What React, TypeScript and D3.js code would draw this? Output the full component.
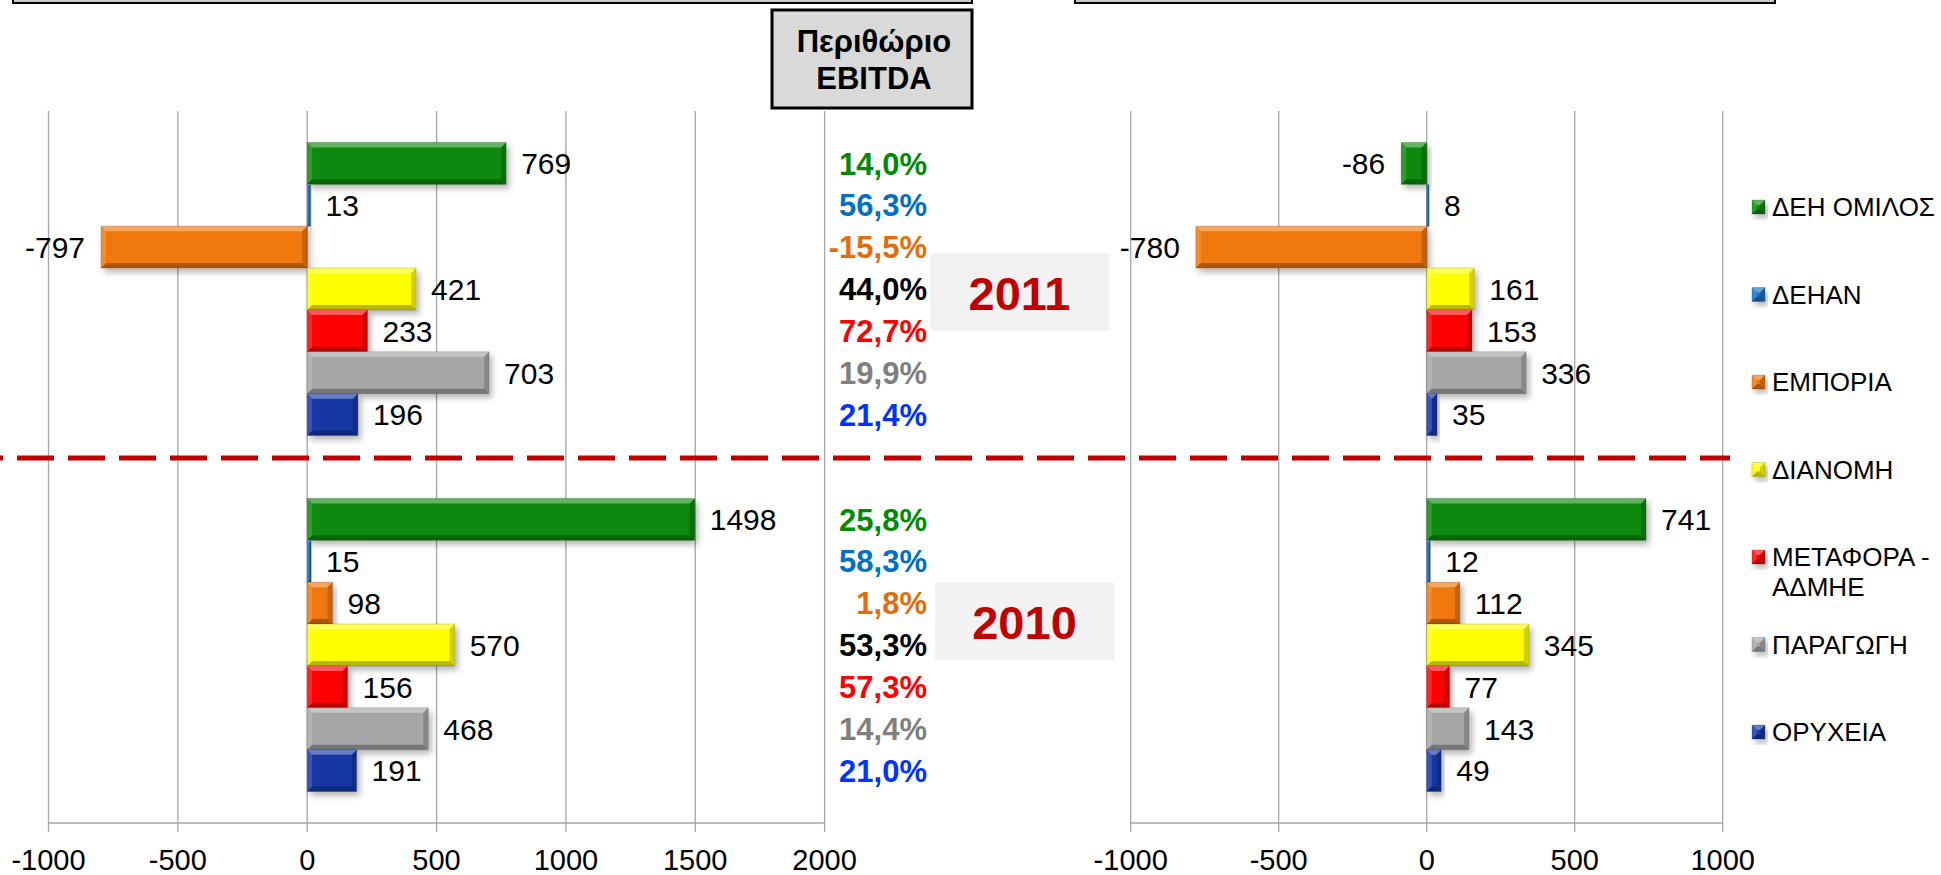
import * as d3 from 'd3';

// EBITDA by business unit, 2011 vs 2010
const segments = ['ΔΕΗ ΟΜΙΛΟΣ', 'ΔΕΗΑΝ', 'ΕΜΠΟΡΙΑ', 'ΔΙΑΝΟΜΗ', 'ΜΕΤΑΦΟΡΑ - ΑΔΜΗΕ', 'ΠΑΡΑΓΩΓΗ', 'ΟΡΥΧΕΙΑ'];
const years = ['2011', '2010'];

const ebitda2011 = [769, 13, -797, 421, 233, 703, 196];
const ebitda2010 = [1498, 15, 98, 570, 156, 468, 191];
const margin2011 = ['14,0%', '56,3%', '-15,5%', '44,0%', '72,7%', '19,9%', '21,4%'];
const margin2010 = ['25,8%', '58,3%', '1,8%', '53,3%', '57,3%', '14,4%', '21,0%'];

const right2011 = [-86, 8, -780, 161, 153, 336, 35];
const right2010 = [741, 12, 112, 345, 77, 143, 49];

const leftTicks = [-1000, -500, 0, 500, 1000, 1500, 2000];
const rightTicks = [-1000, -500, 0, 500, 1000];

const barColors = ['#078A07', '#1F6FBF', '#F07810', '#FFFF00', '#FF0000', '#A6A6A6', '#1438A6'];
const marginColors = ['#008A00', '#0070C0', '#E46C0A', '#000000', '#FF0000', '#7F7F7F', '#0033FF'];

const W = 1941;
const H = 875;
const FONT = 'Liberation Sans, Arial, sans-serif';
const plotTop = 111;
const plotBottom = 823;

const yYear = d3.scaleBand().domain(years).range([plotTop, plotBottom]).paddingInner(0.177).paddingOuter(0.0885);
const ySeg = d3.scaleBand().domain(segments).range([0, yYear.bandwidth()]);

const xLeft = d3.scaleLinear().domain([-1000, 2000]).range([48.5, 824.6]);
const xRight = d3.scaleLinear().domain([-1000, 1000]).range([1130.7, 1722.7]);

// beveled bar like excel's 3D format
const Bar = ({ x0, x1, y0, y1, color }: any) => {
  const w = x1 - x0;
  const h = y1 - y0;
  const b = Math.max(0, Math.min(5, w / 2, h / 2));
  const pts = (a: number[][]) => a.map(p => p.join(',')).join(' ');
  return (
    <g>
      <rect x={x0} y={y0} width={w} height={h} fill={color} filter="url(#shadow)" />
      <polygon points={pts([[x0, y0], [x1, y0], [x1 - b, y0 + b], [x0 + b, y0 + b]])} fill="#fff" opacity={0.35} />
      <polygon points={pts([[x0, y1], [x1, y1], [x1 - b, y1 - b], [x0 + b, y1 - b]])} fill="#000" opacity={0.28} />
      <polygon points={pts([[x0, y0], [x0 + b, y0 + b], [x0 + b, y1 - b], [x0, y1]])} fill="#fff" opacity={0.15} />
      <polygon points={pts([[x1, y0], [x1 - b, y0 + b], [x1 - b, y1 - b], [x1, y1]])} fill="#000" opacity={0.18} />
      <rect x={x0} y={y0} width={w} height={h} fill="none" stroke="#000" strokeOpacity={0.15} strokeWidth={1} />
    </g>
  );
};

const Panel = ({ x, ticks, data }: any) => {
  const [r0, r1] = x.range();
  return (
    <g>
      {ticks.map((t: number) => (
        <g key={t}>
          <line x1={x(t)} x2={x(t)} y1={plotTop} y2={plotBottom + 9} stroke="#A6A6A6" strokeWidth={1.3} />
          <text x={x(t)} y={870} textAnchor="middle" fontSize={29} fontFamily={FONT} fill="#000">{t}</text>
        </g>
      ))}
      <line x1={r0} x2={r1} y1={plotBottom} y2={plotBottom} stroke="#A6A6A6" strokeWidth={1.5} />
      {years.map((yr, yi) => data[yi].map((v: number, i: number) => {
        const y0 = yYear(yr)! + ySeg(segments[i])!;
        const y1 = y0 + ySeg.bandwidth();
        const xa = x(Math.min(0, v));
        const xb = x(Math.max(0, v));
        const cy = (y0 + y1) / 2;
        return (
          <g key={yr + i}>
            <Bar x0={xa} x1={xb} y0={y0} y1={y1} color={barColors[i]} />
            <text x={v < 0 ? xa - 16 : xb + 15} y={cy} dy="0.36em" textAnchor={v < 0 ? 'end' : 'start'}
              fontSize={30} fontFamily={FONT} fill="#000">{v}</text>
          </g>
        );
      }))}
    </g>
  );
};

export default function App() {
  const margins = [margin2011, margin2010];
  const yearBoxes = [{ x: 930, y: 253, label: '2011' }, { x: 935, y: 582, label: '2010' }];
  return (
    <svg width={W} height={H} style={{ position: 'absolute', left: 0, top: 0, background: '#fff' }}>
      <defs>
        <filter id="shadow" x="-10%" y="-20%" width="130%" height="160%">
          <feDropShadow dx={3} dy={4} stdDeviation={3} floodColor="#000" floodOpacity={0.3} />
        </filter>
      </defs>

      {/* frames cut off at the top */}
      <rect x={13} y={-20} width={959} height={23} fill="#C8C8C8" stroke="#000" strokeWidth={2} />
      <rect x={1075} y={-20} width={700} height={23} fill="#C8C8C8" stroke="#000" strokeWidth={2} />

      <Panel x={xLeft} ticks={leftTicks} data={[ebitda2011, ebitda2010]} />
      <Panel x={xRight} ticks={rightTicks} data={[right2011, right2010]} />

      {/* EBITDA margin column */}
      <rect x={772} y={10} width={200} height={98} fill="#D9D9D9" stroke="#000" strokeWidth={3} />
      <text x={874} y={52} textAnchor="middle" fontSize={31} fontWeight="bold" fontFamily={FONT}>Περιθώριο</text>
      <text x={874} y={89} textAnchor="middle" fontSize={31} fontWeight="bold" fontFamily={FONT}>EBITDA</text>
      {years.map((yr, yi) => margins[yi].map((m, i) => (
        <text key={yr + m + i} x={927} y={yYear(yr)! + ySeg(segments[i])! + ySeg.bandwidth() / 2} dy="0.36em"
          textAnchor="end" fontSize={31} fontWeight="bold" fontFamily={FONT} fill={marginColors[i]}>{m}</text>
      )))}

      {yearBoxes.map(b => (
        <g key={b.label}>
          <rect x={b.x} y={b.y} width={179} height={78} fill="#F2F2F2" />
          <text x={b.x + 89.5} y={b.y + 57} textAnchor="middle" fontSize={47} fontWeight="bold" fontFamily={FONT} fill="#C00000">{b.label}</text>
        </g>
      ))}

      <line x1={0} x2={1730} y1={458} y2={458} stroke="#C00000" strokeWidth={5} strokeDasharray="37 14" strokeDashoffset={34} />

      {/* legend */}
      {segments.map((s, i) => {
        const cy = 207 + i * 87.5;
        const lines = s.includes(' - ') ? [s.split(' - ')[0] + ' -', s.split(' - ')[1]] : [s];
        return (
          <g key={s}>
            <Bar x0={1752} x1={1765} y0={cy - 7} y1={cy + 7} color={barColors[i]} />
            {lines.map((l, li) => (
              <text key={l} x={1772} y={cy + li * 29.5} dy="0.36em" fontSize={26} fontFamily={FONT} fill="#000">{l}</text>
            ))}
          </g>
        );
      })}
    </svg>
  );
}
